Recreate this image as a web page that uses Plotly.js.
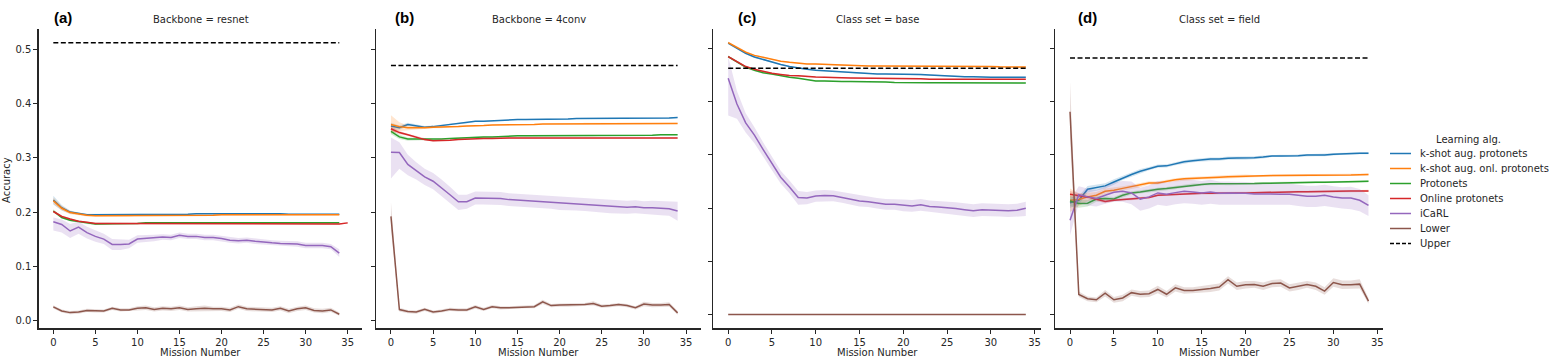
<!DOCTYPE html>
<html>
<head>
<meta charset="utf-8">
<script src="https://cdn.plot.ly/plotly-3.0.1.min.js"></script>
<style>html,body{margin:0;padding:0;background:#fff;}#chart{width:1549px;height:364px;}</style>
</head>
<body>
<div id="chart"></div>
<script>
// ---------------- DATA ----------------
const missions = [0,1,2,3,4,5,6,7,8,9,10,11,12,13,14,15,16,17,18,19,20,21,22,23,24,25,26,27,28,29,30,31,32,33,34,35];
const seriesNames = ["k-shot aug. protonets","k-shot aug. onl. protonets","Protonets","Online protonets","iCaRL","Lower","Upper"];
const panelTitles = ["Backbone = resnet","Backbone = 4conv","Class set = base","Class set = field"];
const panelLetters = ["(a)","(b)","(c)","(d)"];
const yTickVals = [0,0.1,0.2,0.3,0.4,0.5];
const xTickVals = [0,5,10,15,20,25,30,35];

// Panel (a) Backbone = resnet
const A_kshot = [0.222,0.208,0.200,0.197,0.195,0.195,0.195,0.195,0.195,0.195,0.195,0.195,0.196,0.196,0.196,0.196,0.196,0.197,0.197,0.198,0.198,0.197,0.197,0.197,0.197,0.197,0.197,0.197,0.196,0.196,0.196,0.196,0.196,0.196,0.196];
const A_kshot_err = [0.008,0.005,0.003,0.002,0.002,0.002,0.001,0.001,0.001,0.001,0.001,0.001,0.001,0.001,0.001,0.001,0.001,0.001,0.001,0.001,0.001,0.001,0.001,0.001,0.001,0.001,0.001,0.001,0.001,0.001,0.001,0.001,0.001,0.001,0.001];
const A_onl = [0.221,0.207,0.199,0.196,0.194,0.193,0.193,0.193,0.193,0.193,0.194,0.194,0.194,0.194,0.194,0.194,0.194,0.194,0.194,0.194,0.195,0.195,0.195,0.195,0.195,0.195,0.195,0.195,0.195,0.195,0.195,0.195,0.195,0.195,0.195];
const A_onl_err = [0.006,0.004,0.003,0.002,0.002,0.001,0.001,0.001,0.001,0.001,0.001,0.001,0.001,0.001,0.001,0.001,0.001,0.001,0.001,0.001,0.001,0.001,0.001,0.001,0.001,0.001,0.001,0.001,0.001,0.001,0.001,0.001,0.001,0.001,0.001];
const A_proto = [0.202,0.190,0.185,0.182,0.180,0.178,0.178,0.179,0.179,0.179,0.179,0.180,0.180,0.180,0.180,0.180,0.180,0.180,0.180,0.180,0.180,0.180,0.180,0.180,0.180,0.180,0.180,0.180,0.180,0.180,0.180,0.180,0.180,0.180,0.180];
const A_proto_err = [0.003,0.002,0.002,0.002,0.002,0.002,0.002,0.001,0.001,0.001,0.001,0.001,0.001,0.001,0.001,0.001,0.001,0.001,0.001,0.001,0.001,0.001,0.001,0.001,0.001,0.001,0.001,0.001,0.001,0.001,0.001,0.001,0.001,0.001,0.001];
const A_online = [0.201,0.192,0.187,0.183,0.181,0.179,0.179,0.179,0.178,0.178,0.178,0.178,0.178,0.178,0.178,0.178,0.178,0.178,0.178,0.178,0.178,0.178,0.178,0.178,0.178,0.178,0.178,0.178,0.178,0.178,0.178,0.178,0.178,0.178,0.178,0.180];
const A_online_err = [0.002,0.002,0.001,0.001,0.001,0.001,0.001,0.001,0.001,0.001,0.001,0.001,0.001,0.001,0.001,0.001,0.001,0.001,0.001,0.001,0.001,0.001,0.001,0.001,0.001,0.001,0.001,0.001,0.001,0.001,0.001,0.001,0.001,0.001,0.001,0.001];
const A_icarl = [0.182,0.177,0.165,0.172,0.162,0.155,0.150,0.140,0.140,0.141,0.150,0.151,0.152,0.154,0.153,0.157,0.155,0.155,0.153,0.153,0.151,0.148,0.147,0.148,0.146,0.144,0.143,0.142,0.142,0.141,0.138,0.138,0.138,0.136,0.124];
const A_icarl_lo = [0.166,0.162,0.152,0.160,0.151,0.145,0.141,0.130,0.130,0.133,0.143,0.145,0.146,0.149,0.148,0.152,0.150,0.150,0.148,0.148,0.146,0.143,0.142,0.143,0.141,0.139,0.138,0.137,0.137,0.136,0.133,0.133,0.133,0.131,0.117];
const A_icarl_hi = [0.190,0.186,0.178,0.182,0.173,0.166,0.160,0.150,0.149,0.149,0.157,0.157,0.158,0.159,0.158,0.162,0.160,0.160,0.158,0.158,0.156,0.153,0.152,0.153,0.151,0.149,0.148,0.147,0.147,0.146,0.143,0.143,0.143,0.141,0.131];
const A_lower = [0.0246,0.017,0.014,0.015,0.018,0.017,0.017,0.022,0.019,0.019,0.022,0.023,0.020,0.022,0.021,0.023,0.020,0.021,0.022,0.021,0.021,0.019,0.025,0.021,0.020,0.020,0.019,0.022,0.017,0.021,0.023,0.018,0.017,0.019,0.011];
const A_lower_err = [0.003,0.003,0.003,0.003,0.003,0.003,0.003,0.003,0.003,0.003,0.004,0.004,0.004,0.004,0.004,0.004,0.004,0.005,0.005,0.004,0.004,0.004,0.004,0.004,0.004,0.004,0.004,0.004,0.004,0.004,0.004,0.004,0.004,0.004,0.003];
const A_upper = 0.513;

// Panel (b) Backbone = 4conv
const B_kshot = [0.359,0.356,0.362,0.360,0.357,0.358,0.360,0.362,0.364,0.365,0.368,0.368,0.369,0.370,0.371,0.371,0.371,0.371,0.372,0.372,0.372,0.372,0.373,0.373,0.373,0.373,0.373,0.373,0.373,0.373,0.373,0.374,0.374,0.374,0.375];
const B_kshot_err = [0.006,0.004,0.003,0.002,0.002,0.002,0.002,0.001,0.001,0.001,0.001,0.001,0.001,0.001,0.001,0.001,0.001,0.001,0.001,0.001,0.001,0.001,0.001,0.001,0.001,0.001,0.001,0.001,0.001,0.001,0.001,0.001,0.001,0.001,0.001];
const B_onl = [0.362,0.358,0.356,0.3555,0.356,0.357,0.357,0.358,0.358,0.359,0.359,0.360,0.361,0.361,0.362,0.362,0.362,0.362,0.363,0.363,0.363,0.363,0.363,0.364,0.364,0.364,0.364,0.364,0.364,0.364,0.364,0.364,0.364,0.364,0.364];
const B_onl_err = [0.017,0.008,0.004,0.003,0.002,0.002,0.002,0.001,0.001,0.001,0.001,0.001,0.001,0.001,0.001,0.001,0.001,0.001,0.001,0.001,0.001,0.001,0.001,0.001,0.001,0.001,0.001,0.001,0.001,0.001,0.001,0.001,0.001,0.001,0.001];
const B_proto = [0.349,0.339,0.335,0.335,0.335,0.334,0.335,0.336,0.337,0.337,0.338,0.339,0.339,0.340,0.340,0.341,0.341,0.341,0.341,0.341,0.341,0.341,0.341,0.341,0.341,0.342,0.342,0.342,0.342,0.342,0.342,0.342,0.343,0.343,0.343];
const B_proto_err = [0.005,0.004,0.003,0.002,0.002,0.002,0.001,0.001,0.001,0.001,0.001,0.001,0.001,0.001,0.001,0.001,0.001,0.001,0.001,0.001,0.001,0.001,0.001,0.001,0.001,0.001,0.001,0.001,0.001,0.001,0.001,0.001,0.001,0.001,0.001];
const B_online = [0.354,0.347,0.343,0.339,0.334,0.332,0.332,0.333,0.334,0.335,0.336,0.336,0.336,0.337,0.337,0.337,0.337,0.337,0.337,0.337,0.337,0.337,0.337,0.337,0.337,0.337,0.337,0.337,0.337,0.337,0.337,0.337,0.337,0.337,0.337];
const B_online_err = [0.004,0.003,0.002,0.002,0.002,0.001,0.001,0.001,0.001,0.001,0.001,0.001,0.001,0.001,0.001,0.001,0.001,0.001,0.001,0.001,0.001,0.001,0.001,0.001,0.001,0.001,0.001,0.001,0.001,0.001,0.001,0.001,0.001,0.001,0.001];
const B_icarl = [0.3105,0.310,0.288,0.276,0.265,0.257,0.245,0.232,0.219,0.219,0.226,0.226,0.226,0.225,0.223,0.222,0.221,0.219,0.219,0.218,0.216,0.215,0.215,0.214,0.213,0.211,0.210,0.209,0.209,0.210,0.208,0.208,0.207,0.206,0.202];
const B_icarl_lo = [0.262,0.280,0.268,0.260,0.250,0.242,0.230,0.217,0.204,0.206,0.214,0.214,0.214,0.213,0.211,0.210,0.209,0.207,0.207,0.206,0.204,0.203,0.203,0.202,0.201,0.199,0.198,0.197,0.197,0.198,0.196,0.195,0.194,0.193,0.184];
const B_icarl_hi = [0.338,0.329,0.306,0.292,0.280,0.272,0.260,0.247,0.232,0.232,0.238,0.238,0.238,0.237,0.235,0.234,0.233,0.231,0.231,0.230,0.228,0.227,0.227,0.226,0.225,0.223,0.222,0.221,0.221,0.222,0.220,0.221,0.220,0.220,0.219];
const B_lower = [0.192,0.0197,0.016,0.015,0.020,0.015,0.017,0.020,0.019,0.019,0.0246,0.020,0.025,0.023,0.023,0.024,0.025,0.025,0.034,0.027,0.028,0.028,0.028,0.029,0.031,0.026,0.027,0.029,0.027,0.023,0.030,0.028,0.028,0.029,0.0135];
const B_lower_lo = [0.168,0.016,0.013,0.012,0.017,0.012,0.014,0.017,0.016,0.016,0.021,0.017,0.022,0.020,0.020,0.021,0.022,0.022,0.030,0.024,0.025,0.025,0.025,0.026,0.027,0.023,0.024,0.026,0.024,0.020,0.026,0.024,0.024,0.025,0.010];
const B_lower_hi = [0.218,0.023,0.019,0.018,0.023,0.018,0.020,0.023,0.022,0.022,0.028,0.023,0.028,0.026,0.026,0.027,0.028,0.028,0.038,0.030,0.031,0.031,0.031,0.032,0.035,0.029,0.030,0.032,0.030,0.026,0.034,0.032,0.032,0.033,0.017];
const B_upper = 0.471;

// Panel (c) Class set = base
const C_kshot = [0.510,0.500,0.491,0.484,0.479,0.4746,0.470,0.466,0.463,0.461,0.459,0.458,0.457,0.456,0.455,0.4533,0.452,0.452,0.452,0.452,0.4517,0.451,0.451,0.450,0.449,0.4488,0.448,0.447,0.447,0.446,0.446,0.446,0.446,0.4457,0.4457];
const C_kshot_err = [0.002,0.002,0.002,0.002,0.001,0.001,0.001,0.001,0.001,0.001,0.001,0.001,0.001,0.001,0.001,0.001,0.001,0.001,0.001,0.001,0.001,0.001,0.001,0.001,0.001,0.001,0.001,0.001,0.001,0.001,0.001,0.001,0.001,0.001,0.001];
const C_onl = [0.511,0.502,0.493,0.487,0.483,0.479,0.476,0.474,0.472,0.471,0.4708,0.470,0.469,0.468,0.468,0.4677,0.467,0.467,0.467,0.467,0.4665,0.4665,0.466,0.466,0.466,0.466,0.466,0.466,0.466,0.466,0.466,0.4655,0.4655,0.4652,0.4652];
const C_onl_err = [0.002,0.002,0.002,0.001,0.001,0.001,0.001,0.001,0.001,0.001,0.001,0.001,0.001,0.001,0.001,0.001,0.001,0.001,0.001,0.001,0.001,0.001,0.001,0.001,0.001,0.001,0.001,0.001,0.001,0.001,0.001,0.001,0.001,0.001,0.001];
const C_proto = [0.4846,0.474,0.465,0.459,0.4545,0.452,0.4485,0.446,0.444,0.442,0.439,0.439,0.438,0.438,0.438,0.438,0.437,0.437,0.437,0.436,0.4356,0.4356,0.4356,0.4356,0.4356,0.4356,0.4355,0.4355,0.4355,0.4355,0.435,0.435,0.435,0.435,0.435];
const C_proto_err = [0.002,0.002,0.002,0.002,0.002,0.002,0.001,0.001,0.001,0.001,0.001,0.001,0.001,0.001,0.001,0.001,0.001,0.001,0.001,0.001,0.001,0.001,0.001,0.001,0.001,0.001,0.001,0.001,0.001,0.001,0.001,0.001,0.001,0.001,0.001];
const C_online = [0.4846,0.475,0.466,0.461,0.4566,0.4533,0.451,0.449,0.4485,0.447,0.4463,0.446,0.445,0.445,0.4445,0.4444,0.444,0.444,0.443,0.443,0.443,0.443,0.443,0.442,0.442,0.442,0.442,0.442,0.442,0.442,0.442,0.442,0.442,0.442,0.442];
const C_online_err = [0.002,0.002,0.002,0.001,0.001,0.001,0.001,0.001,0.001,0.001,0.001,0.001,0.001,0.001,0.001,0.001,0.001,0.001,0.001,0.001,0.001,0.001,0.001,0.001,0.001,0.001,0.001,0.001,0.001,0.001,0.001,0.001,0.001,0.001,0.001];
const C_icarl = [0.444,0.3955,0.360,0.337,0.310,0.2838,0.258,0.2397,0.2197,0.219,0.2228,0.2235,0.223,0.220,0.217,0.2134,0.212,0.209,0.207,0.207,0.205,0.204,0.206,0.203,0.202,0.201,0.199,0.197,0.195,0.197,0.196,0.196,0.195,0.196,0.1996];
const C_icarl_lo = [0.374,0.368,0.342,0.322,0.297,0.271,0.246,0.228,0.206,0.207,0.212,0.213,0.213,0.210,0.207,0.203,0.202,0.199,0.197,0.197,0.194,0.193,0.195,0.192,0.190,0.189,0.187,0.185,0.183,0.185,0.184,0.184,0.183,0.184,0.185];
const C_icarl_hi = [0.485,0.420,0.378,0.352,0.323,0.297,0.270,0.252,0.232,0.230,0.233,0.234,0.233,0.230,0.227,0.224,0.222,0.219,0.217,0.217,0.216,0.215,0.217,0.214,0.213,0.213,0.211,0.209,0.207,0.209,0.208,0.208,0.207,0.208,0.212];
const C_lower = [0.000,0.000,0.000,0.000,0.000,0.000,0.000,0.000,0.000,0.000,0.000,0.000,0.000,0.000,0.000,0.000,0.000,0.000,0.000,0.000,0.000,0.000,0.000,0.000,0.000,0.000,0.000,0.000,0.000,0.000,0.000,0.000,0.000,0.000,0.000];
const C_lower_err = [0.000,0.000,0.000,0.000,0.000,0.000,0.000,0.000,0.000,0.000,0.000,0.000,0.000,0.000,0.000,0.000,0.000,0.000,0.000,0.000,0.000,0.000,0.000,0.000,0.000,0.000,0.000,0.000,0.000,0.000,0.000,0.000,0.000,0.000,0.000];
const C_upper = 0.4627;

// Panel (d) Class set = field
const D_kshot = [0.210,0.2147,0.2354,0.2385,0.2417,0.249,0.2567,0.263,0.2693,0.274,0.2787,0.2793,0.2837,0.287,0.289,0.2906,0.292,0.292,0.2938,0.294,0.294,0.2944,0.296,0.298,0.298,0.298,0.2985,0.2995,0.2995,0.2995,0.301,0.302,0.303,0.303,0.3032];
const D_kshot_err = [0.010,0.008,0.006,0.006,0.005,0.005,0.004,0.004,0.004,0.003,0.003,0.003,0.003,0.003,0.003,0.003,0.003,0.003,0.003,0.003,0.003,0.003,0.003,0.002,0.002,0.002,0.002,0.002,0.002,0.002,0.002,0.002,0.002,0.002,0.002];
const D_onl = [0.2147,0.216,0.221,0.224,0.2316,0.2335,0.237,0.240,0.243,0.2473,0.2473,0.2505,0.253,0.255,0.2555,0.2567,0.2573,0.258,0.259,0.2597,0.260,0.260,0.2605,0.261,0.261,0.2618,0.2618,0.2618,0.2618,0.2618,0.2618,0.262,0.262,0.2625,0.263];
const D_onl_err = [0.022,0.012,0.008,0.006,0.005,0.005,0.004,0.004,0.004,0.003,0.003,0.003,0.003,0.003,0.003,0.003,0.003,0.003,0.003,0.003,0.003,0.002,0.002,0.002,0.002,0.002,0.002,0.002,0.002,0.002,0.002,0.002,0.002,0.002,0.002];
const D_proto = [0.2134,0.2085,0.209,0.217,0.218,0.217,0.224,0.2285,0.2304,0.2335,0.2354,0.2366,0.2385,0.2417,0.243,0.2442,0.2455,0.2455,0.2448,0.245,0.2455,0.246,0.2465,0.247,0.2475,0.248,0.248,0.248,0.2485,0.2485,0.2486,0.249,0.2495,0.250,0.2505];
const D_proto_err = [0.010,0.008,0.006,0.005,0.004,0.004,0.004,0.003,0.003,0.003,0.003,0.003,0.003,0.003,0.003,0.002,0.002,0.002,0.002,0.002,0.002,0.002,0.002,0.002,0.002,0.002,0.002,0.002,0.002,0.002,0.002,0.002,0.002,0.002,0.002];
const D_online = [0.226,0.224,0.221,0.2166,0.2122,0.2147,0.216,0.2166,0.218,0.220,0.224,0.225,0.226,0.2265,0.2272,0.228,0.228,0.2285,0.2285,0.2285,0.2285,0.229,0.229,0.2295,0.230,0.2304,0.2305,0.2305,0.231,0.231,0.231,0.2315,0.232,0.232,0.2322];
const D_online_err = [0.006,0.004,0.003,0.003,0.003,0.002,0.002,0.002,0.002,0.002,0.002,0.002,0.002,0.002,0.002,0.002,0.002,0.002,0.002,0.002,0.002,0.002,0.002,0.002,0.002,0.002,0.002,0.002,0.002,0.002,0.002,0.002,0.002,0.002,0.002];
const D_icarl = [0.177,0.2254,0.221,0.218,0.224,0.2298,0.2316,0.2285,0.2166,0.221,0.2285,0.226,0.229,0.2316,0.2304,0.2285,0.2304,0.228,0.2285,0.2285,0.228,0.2266,0.226,0.226,0.226,0.226,0.224,0.2222,0.2222,0.224,0.221,0.219,0.219,0.2147,0.205];
const D_icarl_lo = [0.149,0.208,0.205,0.203,0.208,0.212,0.212,0.207,0.195,0.199,0.206,0.204,0.207,0.209,0.208,0.206,0.208,0.206,0.207,0.207,0.207,0.206,0.206,0.206,0.206,0.206,0.204,0.202,0.202,0.204,0.201,0.199,0.198,0.194,0.185];
const D_icarl_hi = [0.215,0.241,0.237,0.234,0.241,0.248,0.251,0.250,0.238,0.243,0.251,0.248,0.251,0.254,0.253,0.251,0.253,0.250,0.250,0.250,0.249,0.247,0.246,0.246,0.246,0.246,0.244,0.242,0.242,0.244,0.241,0.239,0.240,0.236,0.224];
const D_lower = [0.381,0.0377,0.0295,0.0276,0.0402,0.0276,0.031,0.041,0.038,0.039,0.047,0.038,0.050,0.045,0.045,0.0477,0.049,0.0515,0.0653,0.053,0.056,0.0565,0.053,0.058,0.059,0.050,0.053,0.0565,0.053,0.0439,0.060,0.056,0.056,0.057,0.025];
const D_lower_lo = [0.330,0.033,0.025,0.023,0.034,0.022,0.025,0.035,0.032,0.033,0.040,0.032,0.043,0.039,0.039,0.041,0.042,0.045,0.058,0.046,0.049,0.050,0.046,0.051,0.052,0.043,0.046,0.050,0.046,0.037,0.052,0.048,0.048,0.049,0.020];
const D_lower_hi = [0.437,0.043,0.034,0.032,0.046,0.033,0.037,0.047,0.044,0.045,0.054,0.044,0.057,0.051,0.051,0.054,0.056,0.058,0.072,0.060,0.063,0.063,0.060,0.065,0.066,0.057,0.060,0.063,0.060,0.051,0.068,0.064,0.064,0.066,0.031];
const D_upper = 0.482;

const colors = ["#1f77b4","#ff7f0e","#2ca02c","#d62728","#9467bd","#8c564b"];
const bandColors = ["rgba(31,119,180,0.2)","rgba(255,127,14,0.2)","rgba(44,160,44,0.2)","rgba(214,39,40,0.2)","rgba(148,103,189,0.2)","rgba(140,86,75,0.2)"];

const panels = [
  {series:[[A_kshot,A_kshot_err],[A_onl,A_onl_err],[A_proto,A_proto_err],[A_online,A_online_err],[A_icarl,null,A_icarl_lo,A_icarl_hi],[A_lower,A_lower_err]], upper:A_upper},
  {series:[[B_kshot,B_kshot_err],[B_onl,B_onl_err],[B_proto,B_proto_err],[B_online,B_online_err],[B_icarl,null,B_icarl_lo,B_icarl_hi],[B_lower,null,B_lower_lo,B_lower_hi]], upper:B_upper},
  {series:[[C_kshot,C_kshot_err],[C_onl,C_onl_err],[C_proto,C_proto_err],[C_online,C_online_err],[C_icarl,null,C_icarl_lo,C_icarl_hi],[C_lower,C_lower_err]], upper:C_upper},
  {series:[[D_kshot,D_kshot_err],[D_onl,D_onl_err],[D_proto,D_proto_err],[D_online,D_online_err],[D_icarl,null,D_icarl_lo,D_icarl_hi],[D_lower,null,D_lower_lo,D_lower_hi]], upper:D_upper}
];

// ---------------- LAYOUT GEOMETRY ----------------
const W = 1549, H = 364;
const pxX = v => v / W;
const pxY = v => 1 - v / H;
const xDomPx = [[38.6,362.4],[376.2,700.8],[713.3,1040.7],[1055.1,1383.4]];
const yDom = [pxY(328.3), pxY(29.3)];
const xRanges = [[-1.75,36.75],[-1.75,36.75],[-1.7,35.7],[-1.7,35.7]];
const yRanges = [[-0.015,0.538],[-0.015,0.538],[-0.026,0.536],[-0.026,0.536]];
const FONT = "DejaVu Sans";
const INK = "#262626";

const traces = [];
panels.forEach((p, i) => {
  const sfx = i === 0 ? "" : String(i + 1);
  const xa = "x" + sfx, ya = "y" + sfx;
  p.series.forEach((s, k) => {
    const y = s[0];
    const xs = missions.slice(0, y.length);
    let lo, hi;
    if (s[1]) { lo = y.map((v, j) => v - s[1][j]); hi = y.map((v, j) => v + s[1][j]); }
    else { lo = s[2]; hi = s[3]; }
    traces.push({
      type: "scatter", mode: "lines", xaxis: xa, yaxis: ya,
      x: xs.concat(xs.slice().reverse()),
      y: hi.concat(lo.slice().reverse()),
      fill: "toself", fillcolor: bandColors[k], line: {width: 0}, hoverinfo: "skip", showlegend: false
    });
    traces.push({
      type: "scatter", mode: "lines", xaxis: xa, yaxis: ya, x: xs, y: y,
      name: seriesNames[k], line: {color: colors[k], width: 1.5}, showlegend: false
    });
  });
  traces.push({
    type: "scatter", mode: "lines", xaxis: xa, yaxis: ya,
    x: [missions[0], missions[34]], y: [p.upper, p.upper],
    name: "Upper", line: {color: "#000000", width: 1.5, dash: "5px,2.5px"}, showlegend: false
  });
});

const layout = {
  width: W, height: H,
  margin: {l: 0, r: 0, t: 0, b: 0},
  paper_bgcolor: "#ffffff", plot_bgcolor: "rgba(0,0,0,0)",
  showlegend: false,
  font: {family: FONT, size: 10, color: INK},
  annotations: [], shapes: []
};

for (let i = 0; i < 4; i++) {
  const sfx = i === 0 ? "" : String(i + 1);
  layout["xaxis" + sfx] = {
    domain: [pxX(xDomPx[i][0]), pxX(xDomPx[i][1])], range: xRanges[i], anchor: "y" + sfx,
    tickmode: "array", tickvals: xTickVals, ticks: "outside", ticklen: 4, tickwidth: 1, tickcolor: INK,
    showline: true, linecolor: INK, linewidth: 1.25, showgrid: false, zeroline: false,
    tickfont: {family: FONT, size: 10, color: INK}
  };
  layout["yaxis" + sfx] = {
    domain: yDom, range: yRanges[i], anchor: "x" + sfx,
    tickmode: "array", tickvals: yTickVals, tickformat: ".1f", ticks: "outside", ticklen: 4, tickwidth: 1, tickcolor: INK,
    showline: true, linecolor: INK, linewidth: 1.25, showgrid: false, zeroline: false,
    showticklabels: i === 0,
    tickfont: {family: FONT, size: 10, color: INK}
  };
  const cx = (xDomPx[i][0] + xDomPx[i][1]) / 2;
  layout.annotations.push({xref: "paper", yref: "paper", x: pxX(cx), y: pxY(19.3), text: panelTitles[i],
    showarrow: false, xanchor: "center", yanchor: "middle", font: {family: FONT, size: 10, color: INK}});
  layout.annotations.push({xref: "paper", yref: "paper", x: pxX(cx), y: pxY(352.7), text: "Mission Number",
    showarrow: false, xanchor: "center", yanchor: "middle", font: {family: FONT, size: 10, color: INK}});
}
const letterLeft = [52, 393, 736, 1076];
letterLeft.forEach((lx, i) => {
  layout.annotations.push({xref: "paper", yref: "paper", x: pxX(lx), y: pxY(17.5), text: "<b>" + panelLetters[i] + "</b>",
    showarrow: false, xanchor: "left", yanchor: "middle", font: {family: "Liberation Sans", size: 15, color: "#000000"}});
});
layout.annotations.push({xref: "paper", yref: "paper", x: pxX(6), y: pxY(180), text: "Accuracy", textangle: -90,
  showarrow: false, xanchor: "center", yanchor: "middle", font: {family: FONT, size: 10, color: INK}});

// Legend (drawn manually to match matplotlib spacing)
layout.annotations.push({xref: "paper", yref: "paper", x: pxX(1468), y: pxY(139), text: "Learning alg.",
  showarrow: false, xanchor: "center", yanchor: "middle", font: {family: FONT, size: 10, color: INK}});
seriesNames.forEach((nm, k) => {
  const yy = 153.5 + 15 * k;
  const isUpper = k === 6;
  layout.shapes.push({type: "line", xref: "paper", yref: "paper", x0: pxX(1390), x1: pxX(1411), y0: pxY(yy), y1: pxY(yy),
    line: {color: isUpper ? "#000000" : colors[k], width: 1.5, dash: isUpper ? "4px,2px" : "solid"}});
  layout.annotations.push({xref: "paper", yref: "paper", x: pxX(1418), y: pxY(yy), text: nm,
    showarrow: false, xanchor: "left", yanchor: "middle", font: {family: FONT, size: 10, color: INK}});
});

Plotly.newPlot("chart", traces, layout, {staticPlot: true, displayModeBar: false});
</script>
</body>
</html>
